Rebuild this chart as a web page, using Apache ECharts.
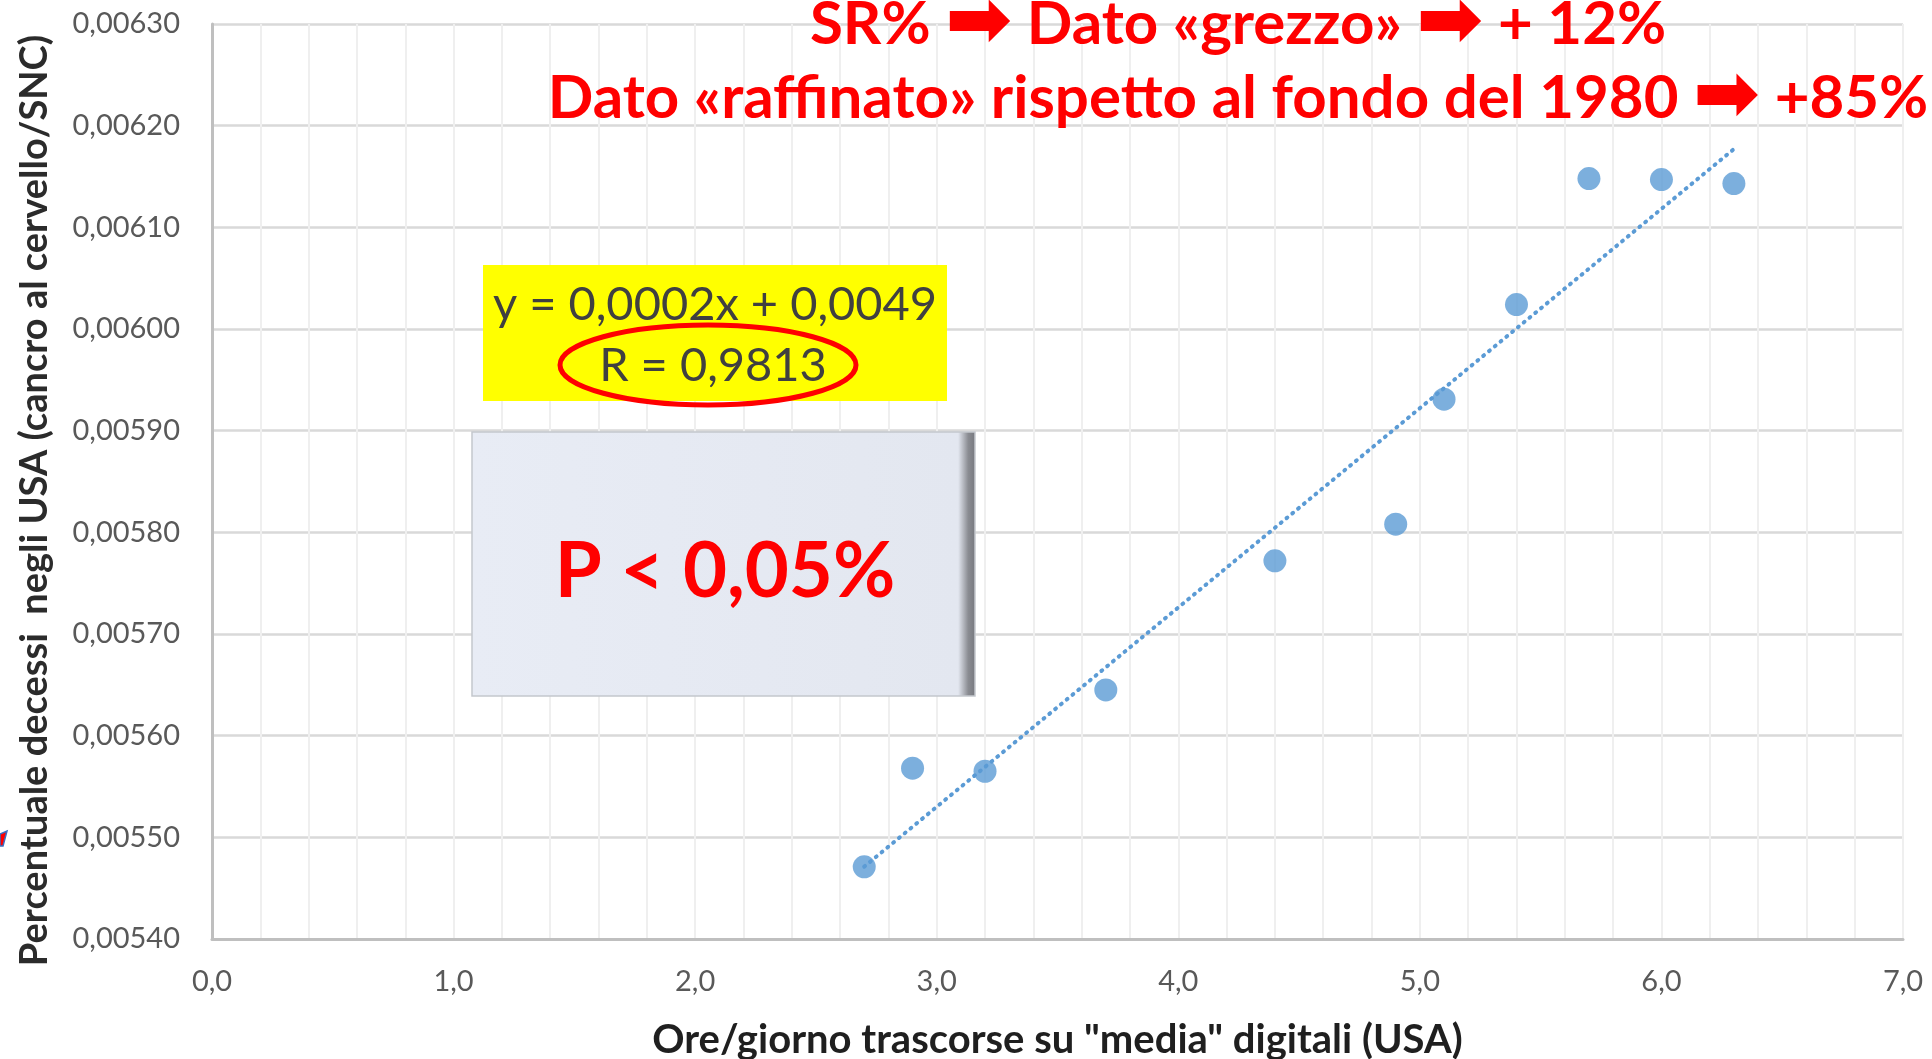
<!DOCTYPE html>
<html>
<head>
<meta charset="utf-8">
<script src="https://cdn.jsdelivr.net/npm/echarts@6/dist/echarts.min.js"></script>
<style>
  html, body { margin: 0; padding: 0; background: #fff; }
  #main { width: 1932px; height: 1059px; }
</style>
</head>
<body>
<div id="main"></div>
<script>
// ore/giorno sui media digitali (USA)
var hours = [2.7, 2.9, 3.2, 3.7, 4.4, 4.9, 5.1, 5.4, 5.7, 6.0, 6.3];
// percentuale decessi cancro al cervello/SNC
var deathRate = [0.005471, 0.005568, 0.005565, 0.005645, 0.005772, 0.005808, 0.005931, 0.006024, 0.006148, 0.006147, 0.006143];

// {a|...} = freccia grande
var titleLines = ['SR% {a|\u27A1} Dato «grezzo» {a|\u27A1} + 12%', 'Dato «raffinato» rispetto al fondo del 1980 {a|\u27A1} +85%'];
var eqText = 'y = 0,0002x + 0,0049';
var rText = 'R = 0,9813';
var pText = 'P < 0,05%';

window.onload = function () {
    var chart = echarts.init(document.getElementById('main'));

    // linea di tendenza (minimi quadrati)
    var n = hours.length, mx = 0, my = 0;
    for (var i = 0; i < n; i++) { mx += hours[i]; my += deathRate[i]; }
    mx /= n; my /= n;
    var sxy = 0, sxx = 0;
    for (var j = 0; j < n; j++) {
        sxy += (hours[j] - mx) * (deathRate[j] - my);
        sxx += (hours[j] - mx) * (hours[j] - mx);
    }
    var slope = sxy / sxx, icpt = my - slope * mx;
    var x0 = Math.min.apply(null, hours), x1 = Math.max.apply(null, hours);
    var trend = [[x0, icpt + slope * x0], [x1, icpt + slope * x1]];

    var points = hours.map(function (h, k) { return [h, deathRate[k]]; });
    var font = 'Lato';
    var arrowRich = { a: { fontFamily: 'DejaVu Sans', fontWeight: 'bold', fontSize: 80, lineHeight: 60, fill: '#ff0000', color: '#ff0000' } };

    chart.setOption({
        textStyle: { fontFamily: font },
        grid: { left: 212, right: 29, top: 24, bottom: 120, outerBoundsMode: 'none', containLabel: false },
        xAxis: {
            type: 'value',
            min: 0, max: 7, interval: 1,
            name: 'Ore/giorno trascorse su "media" digitali (USA)',
            nameLocation: 'middle',
            nameGap: 81,
            nameTextStyle: { fontSize: 40, fontWeight: 'bold', color: '#1f1f1f', fontFamily: font },
            axisLine: { lineStyle: { color: '#bfbfbf', width: 3 } },
            axisTick: { show: false },
            axisLabel: {
                fontSize: 29, color: '#595959', margin: 28,
                formatter: function (v) { return v.toFixed(1).replace('.', ','); }
            },
            splitLine: { lineStyle: { color: '#efefef', width: 2 } },
            minorTick: { show: false, splitNumber: 5 },
            minorSplitLine: { show: true, lineStyle: { color: '#efefef', width: 2 } }
        },
        yAxis: {
            type: 'value',
            min: 0.0054, max: 0.0063, interval: 0.0001,
            name: 'Percentuale decessi  negli USA (cancro al cervello/SNC)',
            nameLocation: 'middle',
            nameGap: 158,
            nameTextStyle: { fontSize: 38, fontWeight: 'bold', color: '#2b2b2b', fontFamily: font, padding: [0, 38, 0, 0] },
            axisLine: { show: true, lineStyle: { color: '#bfbfbf', width: 3 } },
            axisTick: { show: false },
            axisLabel: {
                fontSize: 29, color: '#595959', margin: 32,
                formatter: function (v) { return v.toFixed(5).replace('.', ','); }
            },
            splitLine: { lineStyle: { color: '#d9d9d9', width: 2.5 } }
        },
        series: [{
            type: 'line',
            data: trend,
            showSymbol: false,
            silent: true,
            lineStyle: { color: '#5b9bd5', width: 4, type: [1, 6.5], cap: 'round' },
            z: 2
        }, {
            type: 'scatter',
            data: points,
            symbolSize: 23,
            itemStyle: { color: '#5b9bd5' },
            z: 3
        }],
        graphic: [
            { type: 'text', x: 1238, y: 25, z: 10,
              style: { text: titleLines[0], font: 'bold 60px ' + font, fill: '#ff0000', align: 'center', verticalAlign: 'middle', rich: arrowRich } },
            { type: 'text', x: 1238, y: 99, z: 10,
              style: { text: titleLines[1], font: 'bold 60px ' + font, fill: '#ff0000', align: 'center', verticalAlign: 'middle', rich: arrowRich } },
            { type: 'rect', z: 10, shape: { x: 483, y: 265, width: 464, height: 136 }, style: { fill: '#ffff00' } },
            { type: 'text', x: 715, y: 305, z: 11,
              style: { text: eqText, font: '47px ' + font, fill: '#404040', align: 'center', verticalAlign: 'middle' } },
            { type: 'text', x: 713, y: 366, z: 11,
              style: { text: rText, font: '47px ' + font, fill: '#404040', align: 'center', verticalAlign: 'middle' } },
            { type: 'ellipse', z: 12, shape: { cx: 708, cy: 365, rx: 148, ry: 40 },
              style: { fill: 'none', stroke: '#ff0000', lineWidth: 5 } },
            { type: 'rect', z: 10, shape: { x: 472, y: 432, width: 503, height: 264 },
              style: {
                  fill: new echarts.graphic.LinearGradient(0, 0, 1, 0, [
                      { offset: 0, color: '#e8ecf5' },
                      { offset: 0.965, color: '#e3e7f0' },
                      { offset: 0.985, color: '#8a8c92' },
                      { offset: 1, color: '#75777d' }
                  ]),
                  stroke: '#c4c7cd', lineWidth: 1.5
              } },
            { type: 'text', x: 725, y: 572, z: 11,
              style: { text: pText, font: 'bold 76px ' + font, fill: '#ff0000', align: 'center', verticalAlign: 'middle' } },
            { type: 'polygon', z: 10, shape: { points: [[0, 834], [7, 831], [3, 846], [0, 846]] },
              style: { fill: '#ff0000', stroke: '#3a6fc4', lineWidth: 1.5 } }
        ]
    });
};
</script>
</body>
</html>
